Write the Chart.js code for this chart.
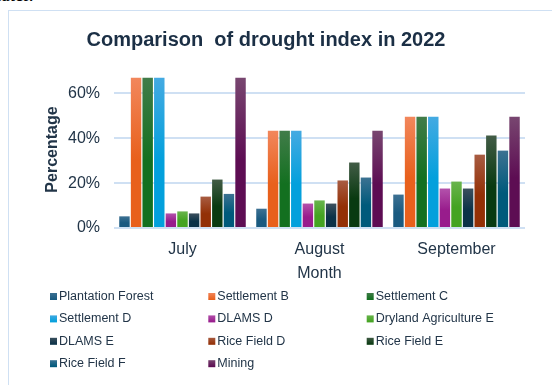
<!DOCTYPE html>
<html>
<head>
<meta charset="utf-8">
<script src="https://cdn.jsdelivr.net/npm/chart.js@4"></script>
<style>
  html, body { margin: 0; padding: 0; background: #fff; overflow: hidden; }
  body { width: 552px; height: 385px; position: relative; }
  #prev { position: absolute; left: -4px; top: -15px; font: 19px "Liberation Serif", serif; color: #000; line-height: 1; margin: 0; }
  #frame { position: absolute; left: 8px; top: 10px; width: 700px; height: 500px; border: 1.5px solid #cfe0f3; box-sizing: border-box; }
  #chart { position: absolute; left: 0; top: 0; }
</style>
</head>
<body>
<p id="prev">later.</p>
<div id="frame"></div>
<canvas id="chart" width="552" height="385"></canvas>
<script>
// Drought index per land-use class, in percent, for each month of 2022
const months = ['July', 'August', 'September'];
const yTicks = [0, 20, 40, 60];

const plantationForest   = [5.2, 8.6, 14.9];
const settlementB        = [67, 43.4, 49.6];
const settlementC        = [67, 43.4, 49.6];
const settlementD        = [67, 43.4, 49.6];
const dlamsD             = [6.5, 10.9, 17.6];
const drylandAgriculture = [7.4, 12.3, 20.7];
const dlamsE             = [6.5, 10.9, 17.6];
const riceFieldD         = [14, 21.2, 32.7];
const riceFieldE         = [21.6, 29.2, 41.2];
const riceFieldF         = [15.2, 22.5, 34.5];
const mining             = [67, 43.4, 49.6];

const seriesNames = ['Plantation Forest', 'Settlement B', 'Settlement C', 'Settlement D', 'DLAMS D',
  'Dryland Agriculture E', 'DLAMS E', 'Rice Field D', 'Rice Field E', 'Rice Field F', 'Mining'];
const seriesValues = [plantationForest, settlementB, settlementC, settlementD, dlamsD,
  drylandAgriculture, dlamsE, riceFieldD, riceFieldE, riceFieldF, mining];

// [top, bottom] colours of each bar's vertical gradient
const seriesColors = [
  ['#3d7193', '#1a5a80'],
  ['#f2875c', '#e8601c'],
  ['#417c49', '#137020'],
  ['#44aae2', '#03a0dc'],
  ['#b352ab', '#981c8c'],
  ['#69b44d', '#44a322'],
  ['#3c505e', '#0b3248'],
  ['#a85c42', '#933006'],
  ['#425c46', '#093a11'],
  ['#3c7292', '#005a7b'],
  ['#784670', '#5d0d53']
];

const textColor = '#223548';
const gridColor = '#cfe0f3';
const fontFamily = '"Liberation Sans", Arial, sans-serif';

function gradientFill(i) {
  return (ctx) => {
    const chart = ctx.chart;
    if (!chart.chartArea || ctx.type !== 'data') return seriesColors[i][1];
    const ys = chart.scales.y;
    const top = ys.getPixelForValue(ctx.raw);
    const bottom = ys.getPixelForValue(0);
    if (!isFinite(top) || !isFinite(bottom) || bottom - top < 1) return seriesColors[i][1];
    const g = chart.ctx.createLinearGradient(0, top, 0, bottom);
    g.addColorStop(0, seriesColors[i][0]);
    g.addColorStop(0.55, seriesColors[i][1]);
    g.addColorStop(1, seriesColors[i][1]);
    return g;
  };
}

const datasets = seriesNames.map((name, i) => ({
  label: name,
  data: seriesValues[i],
  backgroundColor: gradientFill(i),
  borderWidth: 0,
  categoryPercentage: 0.932,
  barPercentage: 0.9
}));

// Title and a three-column legend drawn straight onto the canvas
const decorations = {
  id: 'decorations',
  afterDraw(chart) {
    const c = chart.ctx;
    c.save();
    c.fillStyle = '#1b2f45';
    c.font = 'bold 20px ' + fontFamily;
    c.textAlign = 'center';
    c.textBaseline = 'middle';
    c.fillText('Comparison  of drought index in 2022', 266, 40);

    const colX = [50, 208.3, 366.7];
    const rowY = [296, 318.4, 340.8, 363.2];
    c.font = '12.5px ' + fontFamily;
    c.textAlign = 'left';
    chart.data.datasets.forEach((ds, i) => {
      const x = colX[i % 3];
      const y = rowY[Math.floor(i / 3)];
      const g = c.createLinearGradient(0, y - 3.5, 0, y + 3.5);
      g.addColorStop(0, seriesColors[i][0]);
      g.addColorStop(1, seriesColors[i][1]);
      c.fillStyle = g;
      c.fillRect(x, y - 3, 7, 7);
      c.fillStyle = textColor;
      c.fillText(ds.label, x + 9, y + 0.5);
    });
    c.restore();
  }
};

new Chart(document.getElementById('chart'), {
  type: 'bar',
  data: { labels: months, datasets },
  plugins: [decorations],
  options: {
    responsive: false,
    animation: false,
    devicePixelRatio: 1,
    layout: { padding: { top: 71, right: 27, bottom: 101, left: 0 } },
    plugins: {
      legend: { display: false },
      title: { display: false },
      tooltip: { enabled: false }
    },
    scales: {
      x: {
        grid: { display: false },
        border: { display: false },
        ticks: { color: textColor, font: { family: fontFamily, size: 16 }, padding: 4 },
        title: { display: true, text: 'Month', color: textColor, font: { family: fontFamily, size: 16 }, padding: { top: 0, bottom: 1 } },
        afterFit(scale) { scale.height = 56; }
      },
      y: {
        min: 0,
        max: 70,
        afterBuildTicks(scale) { scale.ticks = yTicks.map(v => ({ value: v })); },
        grid: { color: gridColor, lineWidth: 2, drawTicks: false },
        border: { display: false },
        ticks: {
          color: textColor,
          font: { family: fontFamily, size: 16 },
          padding: 14,
          callback: (v) => v + '%'
        },
        title: { display: true, text: 'Percentage', color: textColor, font: { family: fontFamily, size: 16, weight: 'bold' }, padding: { top: 43, bottom: 0 } },
        afterFit(scale) { scale.width = 114; }
      }
    }
  }
});
</script>
</body>
</html>
